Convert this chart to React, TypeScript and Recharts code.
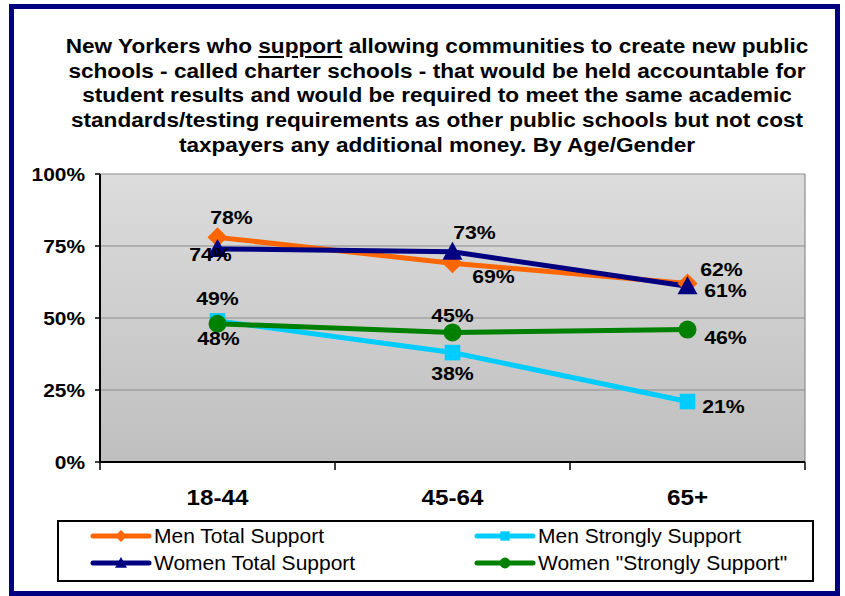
import React from 'react';
import { LineChart, Line, XAxis, YAxis, CartesianGrid, Legend, LabelList } from 'recharts';

// values (percent)
const ageGroups = ['18-44', '45-64', '65+'];
const menTotalSupport = [78, 69, 62];
const womenTotalSupport = [74, 73, 61];
const menStronglySupport = [49, 38, 21];
const womenStronglySupport = [48, 45, 46];
const percentTicks = [0, 25, 50, 75, 100];

const data = ageGroups.map((age, i) => ({
  age,
  menTotal: menTotalSupport[i],
  menStrong: menStronglySupport[i],
  womenTotal: womenTotalSupport[i],
  womenStrong: womenStronglySupport[i],
}));

const FONT = '"Liberation Sans", Arial, Helvetica, sans-serif';
const W = 845;
const H = 596;
const PLOT_LEFT = 100;
const PLOT_TOP = 174;
const PLOT_RIGHT = 805;
const PLOT_BOTTOM = 462;
const X_AXIS_H = 60;
const BAND = (PLOT_RIGHT - PLOT_LEFT) / ageGroups.length;

type Shape = 'diamond' | 'square' | 'triangle' | 'circle';

const drawMarker = (shape: Shape, cx: number, cy: number, color: string, s: number, key?: string) => {
  if (shape === 'diamond') {
    return <polygon key={key} points={`${cx},${cy - s} ${cx + s},${cy} ${cx},${cy + s} ${cx - s},${cy}`} fill={color} />;
  }
  if (shape === 'square') {
    const h = s * 0.78;
    return <rect key={key} x={cx - h} y={cy - h} width={h * 2} height={h * 2} fill={color} />;
  }
  if (shape === 'triangle') {
    return <polygon key={key} points={`${cx},${cy - s} ${cx + s},${cy + s * 0.8} ${cx - s},${cy + s * 0.8}`} fill={color} />;
  }
  return <circle key={key} cx={cx} cy={cy} r={s * 0.9} fill={color} />;
};

const series = [
  { key: 'menTotal', name: 'Men Total Support', color: '#FF6600', shape: 'diamond' as Shape,
    offsets: [[14, -20], [41, 13], [34, -14]] },
  { key: 'menStrong', name: 'Men Strongly Support', color: '#00CCFF', shape: 'square' as Shape,
    offsets: [[0, -23], [0, 20], [36, 4]] },
  { key: 'womenTotal', name: 'Women Total Support', color: '#000080', shape: 'triangle' as Shape,
    offsets: [[-7, 5], [22, -20], [38, 4]] },
  { key: 'womenStrong', name: 'Women "Strongly Support"', color: '#008000', shape: 'circle' as Shape,
    offsets: [[1, 14], [0, -17], [38, 7]] },
];

const legendOrder = ['menTotal', 'menStrong', 'womenTotal', 'womenStrong'];

// wide bold text like the original export
const WideText = ({ x, y, size, sx, anchor = 'middle', children }: any) => (
  <text
    transform={`translate(${x},${y}) scale(${sx},1)`}
    textAnchor={anchor}
    fontFamily={FONT}
    fontWeight="bold"
    fontSize={size}
    fill="#000"
  >
    {children}
  </text>
);

const AgeTick = (props: any) => {
  const { x, payload, index } = props;
  const last = index === ageGroups.length - 1;
  return (
    <g>
      <line x1={x - BAND / 2} x2={x - BAND / 2} y1={PLOT_BOTTOM} y2={PLOT_BOTTOM + 8} stroke="#000" strokeWidth={1.5} />
      {last && (
        <line x1={x + BAND / 2} x2={x + BAND / 2} y1={PLOT_BOTTOM} y2={PLOT_BOTTOM + 8} stroke="#000" strokeWidth={1.5} />
      )}
      <WideText x={x} y={PLOT_BOTTOM + 43} size={22} sx={1.1}>
        {payload.value}
      </WideText>
    </g>
  );
};

const PercentTick = (props: any) => {
  const { x, y, payload } = props;
  return (
    <WideText x={x} y={y + 7} size={19} sx={1.1} anchor="end">
      {`${payload.value}%`}
    </WideText>
  );
};

const makeLabel = (offsets: number[][]) => (p: any) => {
  const x = p.x ?? p.viewBox?.x;
  const y = p.y ?? p.viewBox?.y;
  const off = offsets[p.index] || [0, 0];
  return (
    <WideText x={x + off[0]} y={y + off[1] + 7} size={19} sx={1.12}>
      {`${p.value}%`}
    </WideText>
  );
};

const renderLegend = () => (
  <div
    style={{
      position: 'relative',
      width: '100%',
      height: '100%',
      boxSizing: 'border-box',
      border: '2px solid #000',
      background: '#fff',
      fontFamily: FONT,
      fontSize: 21,
      color: '#000',
    }}
  >
    {legendOrder.map((k, i) => {
      const s = series.find((d) => d.key === k)!;
      const col = i % 2;
      const row = Math.floor(i / 2);
      const left = col === 0 ? 31 : 415;
      const top = row === 0 ? 2 : 29;
      return (
        <div key={k} style={{ position: 'absolute', left, top, height: 24, display: 'flex', alignItems: 'center', whiteSpace: 'nowrap' }}>
          <svg width={62} height={20} style={{ display: 'block' }}>
            <line x1={3} x2={59} y1={10} y2={10} stroke={s.color} strokeWidth={5} strokeLinecap="round" />
            {drawMarker(s.shape, 31, 10, s.color, 6)}
          </svg>
          <span style={{ marginLeft: 2 }}>{s.name}</span>
        </div>
      );
    })}
  </div>
);

export default function App() {
  return (
    <div style={{ position: 'absolute', left: 0, top: 0, width: W, height: H, background: '#fff', overflow: 'hidden' }}>
      <div
        style={{
          position: 'absolute',
          left: 9,
          top: 4,
          width: 831,
          height: 592,
          boxSizing: 'border-box',
          border: '5px solid #000080',
        }}
      />
      <div
        style={{
          position: 'absolute',
          left: 37,
          top: 34,
          width: 800,
          textAlign: 'center',
          fontFamily: FONT,
          fontWeight: 'bold',
          fontSize: 20,
          lineHeight: '24.7px',
          color: '#000',
          transform: 'scaleX(1.13)',
          transformOrigin: '400px 0',
          whiteSpace: 'nowrap',
        }}
      >
        New Yorkers who <span style={{ textDecoration: 'underline', textDecorationThickness: 2, textUnderlineOffset: 3 }}>support</span> allowing communities to create new public
        <br />
        schools - called charter schools - that would be held accountable for
        <br />
        student results and would be required to meet the same academic
        <br />
        standards/testing requirements as other public schools but not cost
        <br />
        taxpayers any additional money. By Age/Gender
      </div>
      <div style={{ position: 'absolute', left: 0, top: 0 }}>
        <LineChart
          width={W}
          height={H}
          data={data}
          margin={{ top: PLOT_TOP, right: W - PLOT_RIGHT, bottom: H - PLOT_BOTTOM - X_AXIS_H, left: 0 }}
        >
          <defs>
            <linearGradient id="plotBg" x1="0" y1="0" x2="0" y2="1">
              <stop offset="0%" stopColor="#dcdcdc" />
              <stop offset="100%" stopColor="#bfbfbf" />
            </linearGradient>
          </defs>
          <CartesianGrid
            fill="url(#plotBg)"
            stroke="#8c8c8c"
            strokeWidth={1.2}
            verticalCoordinatesGenerator={({ offset }: any) => [offset.left + offset.width]}
          />
          <XAxis
            dataKey="age"
            scale="band"
            height={X_AXIS_H}
            axisLine={{ stroke: '#000', strokeWidth: 2 }}
            tickLine={false}
            tick={<AgeTick />}
            interval={0}
          />
          <YAxis
            width={PLOT_LEFT}
            domain={[0, 100]}
            ticks={percentTicks}
            axisLine={{ stroke: '#000', strokeWidth: 2 }}
            tickLine={{ stroke: '#000', strokeWidth: 1.5 }}
            tickSize={5}
            tickMargin={10}
            tick={<PercentTick />}
          />
          {series.map((s) => (
            <Line
              key={s.key}
              dataKey={s.key}
              name={s.name}
              type="linear"
              stroke={s.color}
              strokeWidth={5}
              isAnimationActive={false}
              dot={(p: any) => drawMarker(s.shape, p.cx, p.cy, s.color, 10, `${s.key}-${p.index}`)}
              activeDot={false}
            >
              <LabelList dataKey={s.key} content={makeLabel(s.offsets)} />
            </Line>
          ))}
          <Legend
            layout="horizontal"
            align="center"
            verticalAlign="middle"
            content={renderLegend}
            wrapperStyle={{ left: 57, top: 520, width: 757, height: 62 }}
          />
        </LineChart>
      </div>
    </div>
  );
}
